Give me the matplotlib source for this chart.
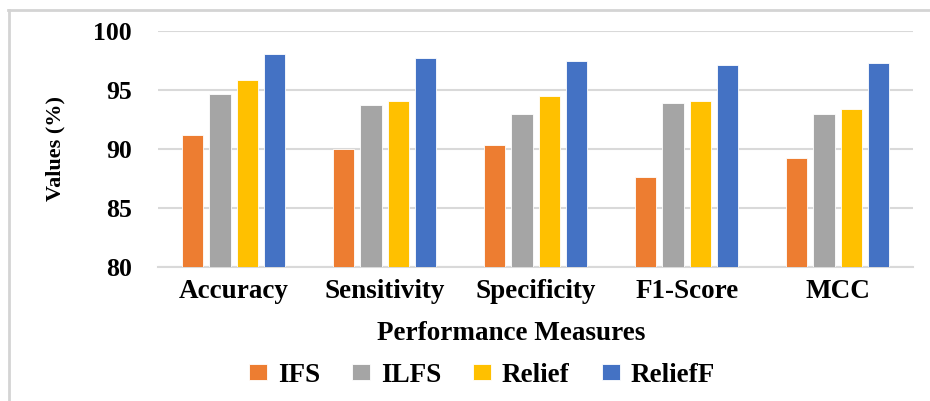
import matplotlib.pyplot as plt
import matplotlib.lines as mlines
import numpy as np

# Performance values (%) for each feature-selection method
measures = ['Accuracy', 'Sensitivity', 'Specificity', 'F1-Score', 'MCC']
ifs = [91.2, 90.0, 90.35, 87.6, 89.2]
ilfs = [94.6, 93.7, 92.95, 93.85, 92.95]
relief = [95.85, 94.0, 94.5, 94.0, 93.4]
relieff = [98.0, 97.7, 97.45, 97.1, 97.3]

methods = ['IFS', 'ILFS', 'Relief', 'ReliefF']
colors = ['#ED7D31', '#A5A5A5', '#FFC000', '#4472C4']
series = [ifs, ilfs, relief, relieff]

plt.rcParams['font.family'] = ['Liberation Serif', 'DejaVu Serif']
plt.rcParams['font.weight'] = 'bold'

fig = plt.figure(figsize=(9.3, 4.01), dpi=100)
ax = fig.add_axes([0.170, 0.335, 0.812, 0.5885])

x = np.arange(len(measures))
step = 0.181
width = 0.142
for k, (vals, col, name) in enumerate(zip(series, colors, methods)):
    ax.bar(x + (k - 1.5) * step, np.array(vals) - 80, bottom=80, width=width,
           color=col, edgecolor='white', linewidth=0.6, label=name, zorder=3)

ax.set_xlim(-0.5, len(measures) - 0.5)
ax.set_ylim(80, 100)
ax.set_yticks([80, 85, 90, 95, 100])
ax.yaxis.grid(True, color='#d9d9d9', linewidth=1.5, zorder=0)
ax.set_axisbelow(True)
for side in ['top', 'right', 'left']:
    ax.spines[side].set_visible(False)
ax.spines['bottom'].set_color('#d9d9d9')
ax.spines['bottom'].set_linewidth(1.5)
ax.tick_params(axis='both', length=0)
ax.tick_params(axis='y', pad=19, labelsize=18.5)
ax.tick_params(axis='x', pad=9, labelsize=19.5)
ax.set_xticks(x)
ax.set_xticklabels(measures, fontweight='bold')
for lab in ax.get_yticklabels():
    lab.set_fontweight('bold')

ax.set_ylabel('Values (%)', fontsize=16, fontweight='bold')
ax.yaxis.set_label_coords(-0.122, 0.5)

fig.text(511 / 930, 1 - 333 / 401, 'Performance Measures', ha='center', va='center',
         fontsize=19.5, fontweight='bold')

fig.legend(loc='center', bbox_to_anchor=(482 / 930, 1 - 375 / 401), ncol=4,
           frameon=False, handlelength=0.65, handleheight=0.55,
           handletextpad=0.4, columnspacing=1.2, prop={'weight': 'bold', 'size': 19.5})

# chart-area border along the top and left edges
border = dict(color='#d4d4d4', linewidth=2, transform=fig.transFigure)
fig.add_artist(mlines.Line2D([8 / 930, 1], [1 - 9.5 / 401] * 2, **border))
fig.add_artist(mlines.Line2D([9 / 930] * 2, [0, 1 - 9.5 / 401], **border))

fig.savefig('out.png', dpi=100, facecolor='white')
